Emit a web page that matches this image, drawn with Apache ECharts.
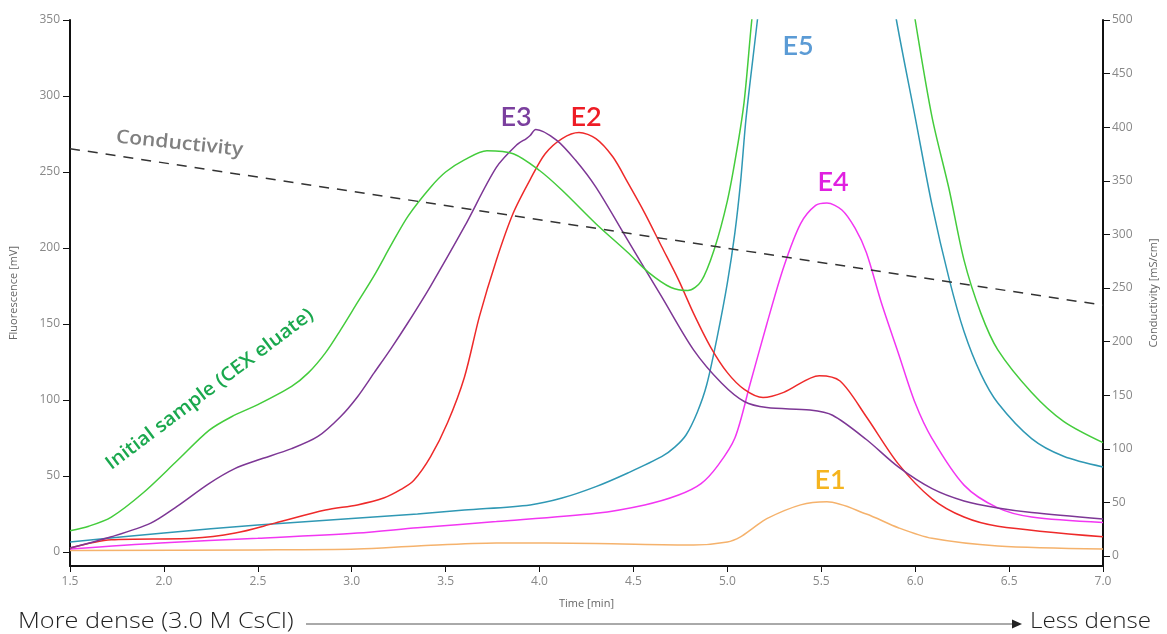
<!DOCTYPE html>
<html>
<head>
<meta charset="utf-8">
<script src="https://cdn.jsdelivr.net/npm/echarts@6/dist/echarts.min.js"></script>
<style>
  html, body { margin: 0; padding: 0; background: #fff; }
  #chart { width: 1167px; height: 634px; }
</style>
</head>
<body>
<div id="chart"></div>
<script>
// Fluorescence traces, [time (min), fluorescence (mV)]
const initialSample = [
  [1.5, 14], [1.6, 17], [1.72, 23], [1.89, 39], [2.07, 60], [2.24, 80], [2.36, 89],
  [2.5, 97], [2.68, 109], [2.77, 118], [2.86, 131], [2.94, 146], [3.03, 164],
  [3.12, 182], [3.21, 202], [3.3, 221], [3.42, 240], [3.5, 250], [3.6, 258],
  [3.72, 264], [3.86, 262], [4.0, 251], [4.12, 238], [4.3, 216], [4.47, 197],
  [4.58, 184], [4.7, 174], [4.79, 172], [4.86, 178], [4.93, 199], [5.0, 231],
  [5.05, 264], [5.09, 297], [5.13, 350], [5.2, 430], [5.3, 540], [5.5, 620],
  [5.7, 580], [5.85, 470], [5.95, 390], [6.0, 350], [6.09, 286], [6.18, 239],
  [6.26, 192], [6.35, 157], [6.44, 133], [6.62, 105], [6.79, 86], [7.0, 72]
];
const e1 = [
  [1.5, 1], [2.5, 1.4], [3.03, 2], [3.35, 4], [3.77, 6], [4.3, 5.6], [4.82, 4.6],
  [5.0, 6.6], [5.07, 10], [5.14, 16], [5.21, 22], [5.39, 31], [5.53, 33],
  [5.74, 25], [5.91, 16], [6.09, 9], [6.44, 4], [7.0, 2]
];
const e2 = [
  [1.5, 2.6], [1.72, 8], [2.15, 9], [2.38, 12.5], [2.59, 19], [2.86, 27.6],
  [3.03, 31], [3.17, 35.5], [3.26, 41], [3.33, 47], [3.42, 62.7], [3.51, 85],
  [3.6, 115], [3.68, 155], [3.77, 192], [3.86, 223], [3.95, 245], [4.03, 262],
  [4.12, 272], [4.21, 276], [4.3, 272], [4.39, 260], [4.47, 243], [4.56, 223],
  [4.65, 201], [4.74, 179], [4.82, 157], [4.91, 135], [5.0, 118], [5.09, 107],
  [5.19, 101.6], [5.3, 105], [5.49, 116], [5.6, 112.5], [5.74, 89], [5.91, 58],
  [6.09, 35], [6.26, 23], [6.44, 17], [7.0, 10]
];
const e3 = [
  [1.5, 2.6], [1.72, 10], [1.93, 19], [2.07, 30], [2.24, 45], [2.38, 55],
  [2.5, 60.5], [2.68, 68], [2.82, 76], [2.94, 89], [3.03, 102], [3.12, 118],
  [3.21, 134], [3.3, 151], [3.42, 175], [3.6, 214], [3.77, 253], [3.88, 268],
  [3.93, 272], [3.95, 274], [3.98, 278], [4.09, 271], [4.19, 258], [4.3, 240],
  [4.47, 205], [4.65, 168], [4.82, 133], [4.97, 111], [5.09, 99], [5.21, 95],
  [5.44, 93.4], [5.56, 90], [5.74, 74], [5.91, 56], [6.09, 41.7], [6.26, 33.6],
  [6.44, 29], [6.62, 26], [7.0, 21.7]
];
const e4 = [
  [1.5, 2], [1.98, 6], [2.5, 9], [3.03, 12.5], [3.35, 16], [3.77, 20], [4.3, 25.5],
  [4.56, 31], [4.74, 37.5], [4.86, 45], [4.95, 57], [5.04, 75], [5.12, 110],
  [5.21, 150], [5.3, 187.5], [5.39, 216], [5.47, 228], [5.53, 229.6], [5.61, 225],
  [5.68, 213], [5.74, 197], [5.82, 164], [5.91, 131], [6.0, 98], [6.09, 74.6],
  [6.26, 44], [6.44, 29], [6.62, 23], [7.0, 19.4]
];
const e5 = [
  [1.5, 6.6], [2.0, 12.5], [2.5, 17.8], [3.0, 22], [3.35, 25], [3.6, 27.6],
  [3.95, 31], [4.12, 35.5], [4.3, 43], [4.47, 52], [4.65, 62.7], [4.72, 69],
  [4.78, 77], [4.84, 92], [4.89, 110], [4.95, 144], [5.0, 177], [5.04, 210],
  [5.07, 243], [5.1, 286], [5.16, 350], [5.25, 450], [5.4, 540], [5.55, 560],
  [5.7, 500], [5.82, 410], [5.9, 350], [6.0, 286], [6.09, 228], [6.18, 180],
  [6.26, 145], [6.35, 117], [6.44, 98], [6.62, 74.6], [6.79, 63], [7.0, 56]
];
// Conductivity gradient, [time (min), conductivity (mS/cm)]
const conductivity = [[1.5, 380], [7.0, 234]];

// Tick values
const fluorescenceTicks = [0, 50, 100, 150, 200, 250, 300, 350];
const conductivityTicks = [0, 50, 100, 150, 200, 250, 300, 350, 400, 450, 500];

const FONT = '"Open Sans", "Noto Sans", sans-serif';
const TITLE_FONT = 'Lato, "Noto Sans", sans-serif';
const axisBlack = '#111';

const chart = echarts.init(document.getElementById('chart'));

function trace(name, data, color, z) {
  return {
    name, type: 'line', data, yAxisIndex: 0,
    showSymbol: false, smooth: 0.3,
    lineStyle: { color, width: 1.5 }, z: z || 2, silent: true
  };
}

chart.setOption({
  animation: false,
  grid: { left: 69, right: 54, top: 20, bottom: 68 },
  xAxis: {
    type: 'value', min: 1.5, max: 7.0, interval: 0.5,
    name: 'Time [min]', nameLocation: 'middle', nameGap: 32,
    nameTextStyle: { color: '#666', fontSize: 11, fontFamily: FONT },
    axisLine: { onZero: false, lineStyle: { color: axisBlack, width: 2 } },
    axisTick: { length: 6, lineStyle: { color: axisBlack, width: 1 } },
    axisLabel: { color: '#888', fontSize: 12, fontFamily: FONT, margin: 10,
      formatter: v => v.toFixed(1) },
    splitLine: { show: false }
  },
  yAxis: [
    {
      type: 'value', min: -9.2, max: 350, position: 'left',
      name: 'Fluorescence [mV]', nameLocation: 'middle', nameGap: 51, nameRotate: 90,
      nameTextStyle: { color: '#666', fontSize: 11, fontFamily: FONT },
      axisLine: { show: true, lineStyle: { color: axisBlack, width: 2 } },
      axisTick: { show: true, length: 7, customValues: fluorescenceTicks,
        lineStyle: { color: axisBlack, width: 1 } },
      axisLabel: { color: '#888', fontSize: 12, fontFamily: FONT, margin: 10,
        customValues: fluorescenceTicks },
      splitLine: { show: false }
    },
    {
      type: 'value', min: -9.3, max: 500, position: 'right',
      name: 'Conductivity [mS/cm]', nameLocation: 'middle', nameGap: 45, nameRotate: 90,
      nameTextStyle: { color: '#666', fontSize: 11, fontFamily: FONT },
      axisLine: { show: true, lineStyle: { color: axisBlack, width: 2 } },
      axisTick: { show: true, length: 7, customValues: conductivityTicks,
        lineStyle: { color: axisBlack, width: 1 } },
      axisLabel: { color: '#888', fontSize: 12, fontFamily: FONT, margin: 9,
        customValues: conductivityTicks },
      splitLine: { show: false }
    }
  ],
  series: [
    trace('E1', e1, '#f5b26c', 2),
    trace('E4', e4, '#f236f2', 3),
    trace('E2', e2, '#ee2a2a', 4),
    trace('E3', e3, '#7d3795', 5),
    trace('E5', e5, '#2f98b4', 3),
    trace('Initial sample (CEX eluate)', initialSample, '#44cc3c', 6),
    {
      name: 'Conductivity', type: 'line', data: conductivity, yAxisIndex: 1,
      showSymbol: false, silent: true, z: 7,
      lineStyle: { color: '#333', width: 1.5, type: [10, 8] }
    }
  ],
  graphic: [
    // peak labels
    { type: 'text', x: 516, y: 117, style: { text: 'E3', fill: '#7b3f9e',
      font: '600 27px ' + TITLE_FONT, align: 'center', verticalAlign: 'middle' } },
    { type: 'text', x: 586, y: 117, style: { text: 'E2', fill: '#ee1c25',
      font: '600 27px ' + TITLE_FONT, align: 'center', verticalAlign: 'middle' } },
    { type: 'text', x: 798, y: 46, style: { text: 'E5', fill: '#5b9bd5',
      font: '600 27px ' + TITLE_FONT, align: 'center', verticalAlign: 'middle' } },
    { type: 'text', x: 833, y: 182, style: { text: 'E4', fill: '#e020e0',
      font: '600 27px ' + TITLE_FONT, align: 'center', verticalAlign: 'middle' } },
    { type: 'text', x: 830, y: 480, style: { text: 'E1', fill: '#f5b41e',
      font: '600 27px ' + TITLE_FONT, align: 'center', verticalAlign: 'middle' } },
    // curve captions
    { type: 'text', x: 116, y: 137, rotation: -6 * Math.PI / 180, scaleX: 1.11,
      style: { text: 'Conductivity', fill: '#808080', font: '600 19px ' + FONT,
        align: 'left', verticalAlign: 'middle' } },
    { type: 'text', x: 108, y: 466, rotation: 37 * Math.PI / 180, scaleX: 1.07,
      style: { text: 'Initial sample (CEX eluate)', fill: '#1aa84e', font: '600 19px ' + FONT,
        align: 'left', verticalAlign: 'middle' } },
    // density direction
    { type: 'text', x: 18, y: 622, scaleX: 1.15, style: { text: 'More dense (3.0 M CsCl)',
      fill: '#222', font: '300 22px ' + FONT, align: 'left', verticalAlign: 'middle' } },
    { type: 'line', shape: { x1: 306, y1: 624, x2: 1014, y2: 624 },
      style: { stroke: '#555', lineWidth: 1 } },
    { type: 'polygon', shape: { points: [[1012, 619.5], [1022, 624], [1012, 628.5]] },
      style: { fill: '#222' } },
    { type: 'text', x: 1030, y: 622, scaleX: 1.1, style: { text: 'Less dense', fill: '#222',
      font: '300 22px ' + FONT, align: 'left', verticalAlign: 'middle' } }
  ]
});
</script>
</body>
</html>
